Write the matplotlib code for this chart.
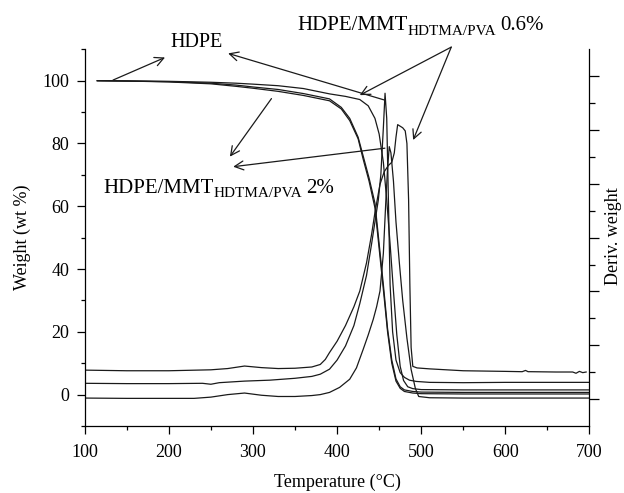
import matplotlib
matplotlib.use("Agg")
import matplotlib.pyplot as plt
from matplotlib.ticker import MultipleLocator, FixedLocator
from matplotlib.transforms import offset_copy

plt.rcParams['font.family'] = ['Liberation Serif', 'DejaVu Serif']

# ---------------- data ----------------
# TG curves (weight %)
tg_hdpe_T = [115, 150, 200, 250, 280, 300, 330, 360, 391, 410, 427, 437, 445, 450, 455,
             459, 463, 467, 471, 475, 479, 484, 490, 500, 550, 600, 700]
tg_hdpe_W = [100, 99.9, 99.8, 99.5, 99.2, 98.9, 98.4, 97.5, 95.8, 95.0, 94.0, 92.0, 88, 83, 74,
             62, 48, 33, 19, 9, 4.5, 2.5, 1.9, 1.6, 1.5, 1.5, 1.5]

tg_06_T = [115, 150, 200, 250, 280, 300, 330, 360, 391, 405, 415, 425, 431, 438, 445, 450,
           455, 460, 465, 470, 475, 480, 490, 500, 550, 700]
tg_06_W = [100, 99.9, 99.7, 99.2, 98.6, 98.0, 97.2, 95.9, 94.2, 91.5, 88, 82, 76, 69, 61, 48,
           35, 21, 11, 5, 2.5, 1.5, 1.0, 0.8, 0.7, 0.7]

tg_2_T = [115, 150, 200, 250, 280, 300, 330, 360, 391, 405, 415, 425, 431, 438, 445, 450,
          455, 460, 465, 470, 475, 480, 490, 500, 550, 700]
tg_2_W = [100, 99.9, 99.6, 99.0, 98.2, 97.6, 96.6, 95.3, 93.6, 91.0, 87.3, 81.5, 75, 68, 59.5, 46.5,
          33.5, 20, 10, 4.3, 2.0, 1.0, 0.5, 0.3, 0.2, 0.2]

# DTG curves (derivative weight, plotted in the weight-axis frame)
dtg_a_T = [100, 150, 200, 240, 250, 260, 290, 320, 350, 370, 380, 391, 400, 410, 420, 427, 435,
           441, 445, 449, 452, 455, 457, 459, 461, 463, 466, 470, 475, 480, 486, 494, 510,
           550, 600, 700]
dtg_a_W = [3.6, 3.5, 3.5, 3.6, 3.3, 3.8, 4.3, 4.6, 5.2, 5.8, 6.5, 8.1, 11, 15.5, 22, 29, 38,
           48, 55, 62, 70, 85, 96, 88, 62, 35, 20, 11, 7, 5.5, 4.6, 4.2, 3.9,
           3.8, 3.9, 3.9]

dtg_b_T = [100, 150, 200, 250, 270, 290, 310, 330, 350, 370, 380, 386, 391, 400, 410, 420, 427, 435,
           441, 445, 451, 456, 461, 465, 468, 470, 472, 475, 478, 481, 483, 485, 486.5, 488,
           490, 495, 510, 550, 600, 620, 624, 627, 630, 660, 680, 684, 688, 692, 696]
dtg_b_W = [7.8, 7.6, 7.6, 7.9, 8.3, 9.1, 8.6, 8.3, 8.4, 8.8, 9.6, 11.2, 13.4, 17, 22, 28, 33, 42,
           51, 58, 67, 71, 73, 74, 77, 82, 86, 85.5, 85, 84, 80, 62, 35, 15,
           9, 8.5, 8.2, 7.6, 7.4, 7.3, 7.7, 7.3, 7.3, 7.2, 7.2, 6.8, 7.4, 7.0, 7.2]

dtg_c_T = [100, 150, 200, 230, 250, 270, 290, 310, 330, 350, 370, 380, 391, 403, 415, 423,
           431, 437, 443, 447, 451, 455, 458, 460, 462, 464, 467, 470, 474, 478, 483, 488,
           493, 497, 510, 550, 600, 700]
dtg_c_W = [-1.1, -1.2, -1.2, -1.2, -0.8, 0.0, 0.5, -0.2, -0.6, -0.6, -0.3, 0.0, 0.7, 2.3, 4.9, 8.5,
           14.4, 19, 24, 28, 33, 45, 62, 72, 79, 77, 68, 55, 42, 30, 18, 8,
           2, -0.6, -1.0, -1.1, -1.1, -1.1]

x_ticks = [100, 200, 300, 400, 500, 600, 700]
y_ticks = [0, 20, 40, 60, 80, 100]

# ---------------- figure ----------------
fig = plt.figure(figsize=(6.24, 4.93), dpi=100)
ax = fig.add_axes([0.1357, 0.1359, 0.809, 0.7641])

lc = '#1a1a1a'
lw = 0.9
for T, W in [(tg_hdpe_T, tg_hdpe_W), (tg_06_T, tg_06_W), (tg_2_T, tg_2_W),
             (dtg_a_T, dtg_a_W), (dtg_b_T, dtg_b_W), (dtg_c_T, dtg_c_W)]:
    ax.plot(T, W, color=lc, lw=lw)

ax.set_xlim(100, 700)
ax.set_ylim(-10, 110)
ax.set_xticks(x_ticks)
ax.set_yticks(y_ticks)
ax.xaxis.set_minor_locator(MultipleLocator(50))
ax.yaxis.set_minor_locator(FixedLocator([-10, 10, 30, 50, 70, 90, 110]))
ax.tick_params(axis='both', which='major', direction='out', length=6, width=0.9,
               labelsize=13, color='k')
ax.tick_params(axis='x', which='major', pad=7)
ax.tick_params(axis='y', which='major', pad=5)
ax.tick_params(axis='both', which='minor', direction='out', length=3, width=0.9, color='k')
ax.spines['top'].set_visible(False)
ax.spines['right'].set_visible(False)
for s in ['left', 'bottom']:
    ax.spines[s].set_linewidth(0.9)

ax.set_xlabel('Temperature (°C)', fontsize=13, labelpad=9)
ax.set_ylabel('Weight (wt %)', fontsize=13, labelpad=8)

ax2 = ax.twinx()
ax2.set_ylim(0, 14)
ax2.yaxis.set_major_locator(FixedLocator([1, 3, 5, 7, 9, 11, 13]))
ax2.yaxis.set_minor_locator(FixedLocator([2, 4, 6, 8, 10, 12]))
ax2.tick_params(axis='y', which='major', direction='out', length=7, width=0.9, labelright=False)
ax2.tick_params(axis='y', which='minor', direction='out', length=4, width=0.9)
for s in ['top', 'left', 'bottom']:
    ax2.spines[s].set_visible(False)
ax2.spines['right'].set_linewidth(0.9)
fig.text(614 / 624, 1 - 236 / 493, 'Deriv. weight', fontsize=13, rotation=90,
         ha='center', va='center')

# ---------------- annotations ----------------
fs = 15
sfs = 11
fig.canvas.draw()
renderer = fig.canvas.get_renderer()


def sub_label(x, y, main, sub, tail):
    t1 = ax.text(x, y, main, fontsize=fs, ha='left', va='baseline', clip_on=False)
    w1 = t1.get_window_extent(renderer).width * 72 / fig.dpi
    tr2 = offset_copy(ax.transData, fig=fig, x=w1, y=-3, units='points')
    t2 = ax.text(x, y, sub, fontsize=sfs, ha='left', va='baseline', transform=tr2, clip_on=False)
    w2 = t2.get_window_extent(renderer).width * 72 / fig.dpi
    tr3 = offset_copy(ax.transData, fig=fig, x=w1 + w2 + 3, y=0, units='points')
    ax.text(x, y, tail, fontsize=fs, ha='left', va='baseline', transform=tr3, clip_on=False)


ax.text(233, 112.3, 'HDPE', fontsize=14.5, ha='center', va='center', clip_on=False)
sub_label(353, 116.0, 'HDPE/MMT', 'HDTMA/PVA', '0.6%')
sub_label(122, 64.2, 'HDPE/MMT', 'HDTMA/PVA', '2%')

arrows = [
    ((195.5, 107.4), (133.7, 100.2)),
    ((270.5, 108.7), (456.8, 93.8)),
    ((427.0, 95.4), (535.7, 110.7)),
    ((490.4, 81.1), (535.7, 110.7)),
    ((272.6, 75.8), (322.0, 94.3)),
    ((276.5, 72.6), (456.8, 78.5)),
]
for head, tail in arrows:
    ax.annotate('', xy=head, xytext=tail, xycoords='data', textcoords='data',
                annotation_clip=False,
                arrowprops=dict(arrowstyle='->', lw=0.9, color=lc,
                                shrinkA=0, shrinkB=0, mutation_scale=16))

fig.savefig('out.png', dpi=100)
